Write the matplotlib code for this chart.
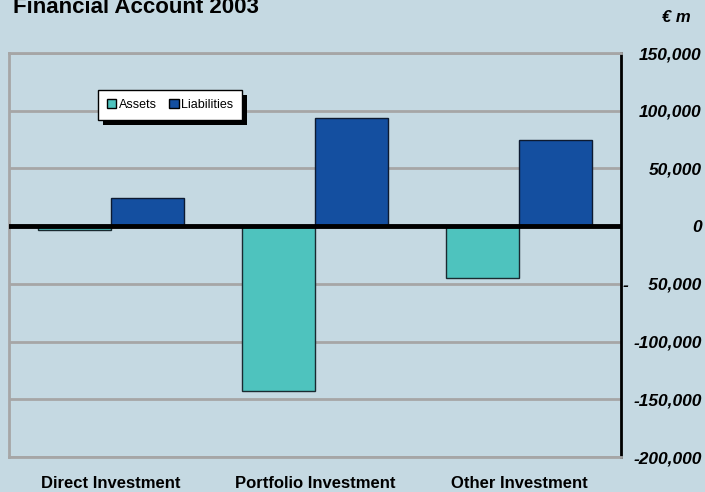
import matplotlib.pyplot as plt
import matplotlib.patches as mpatches
import numpy as np

plt.rcParams['font.family'] = ['Liberation Sans', 'DejaVu Sans']

categories = ['Direct Investment', 'Portfolio Investment', 'Other Investment']
assets = [-3400, -142600, -45200]
liabilities = [24100, 93400, 74300]
ytick_vals = [150000, 100000, 50000, 0, -50000, -100000, -150000, -200000]
ytick_labels = ['150,000', '100,000', '50,000', '0', '-    50,000', '-100,000', '-150,000', '-200,000']

bg = '#c5d9e2'
W, H = 705, 492
fig = plt.figure(figsize=(W / 100, H / 100), dpi=100, facecolor=bg)
ax = fig.add_axes([9 / W, 1 - 457 / H, (621 - 9) / W, (457 - 53) / H], facecolor=bg)

x = np.arange(len(categories))
w = 0.36
ax.bar(x - w / 2, assets, w, color='#4ec3be', edgecolor='#1a2a30', linewidth=1, label='Assets', zorder=3)
ax.bar(x + w / 2, liabilities, w, color='#144fa0', edgecolor='#0d1a30', linewidth=1, label='Liabilities', zorder=3)

ax.set_xlim(-0.5, 2.5)
ax.set_ylim(-200000, 150000)
for v in ytick_vals:
    if v != 0:
        ax.axhline(v, color='#a6a6a6', linewidth=2, zorder=1)
ax.axhline(0, color='black', linewidth=3.5, zorder=4)

ax.yaxis.tick_right()
ax.set_yticks(ytick_vals)
ax.set_yticklabels(ytick_labels, fontsize=12.5, fontweight='bold', style='italic', ha='right')
ax.tick_params(axis='y', length=0, pad=58)
ax.set_xticks(x)
ax.set_xticklabels(categories, fontsize=12, fontweight='bold')
ax.tick_params(axis='x', length=0, pad=14)

for s in ['left', 'top', 'bottom']:
    ax.spines[s].set_color('#a6a6a6')
    ax.spines[s].set_linewidth(2)
ax.spines['right'].set_color('black')
ax.spines['right'].set_linewidth(2)

fig.text(13 / W, 1 - 13 / H, 'Financial Account 2003', fontsize=16, fontweight='bold', va='baseline')
fig.text(691 / W, 1 - 18 / H, '€ m', fontsize=12, fontweight='bold', style='italic', ha='right', va='center')

leg = ax.legend(loc='upper left', bbox_to_anchor=(89 / 612, 1 - 37 / 404), ncol=2, fontsize=9,
                frameon=True, fancybox=False, framealpha=1, handlelength=0.75, handleheight=0.75,
                columnspacing=1.0, handletextpad=0.2, borderpad=0.7, borderaxespad=0)
leg.get_frame().set_facecolor('white')
leg.get_frame().set_edgecolor('black')
leg.get_frame().set_linewidth(1)
for h in leg.legend_handles:
    h.set_edgecolor('black')
leg.set_zorder(6)

# solid black drop shadow behind the legend box
fig.canvas.draw()
bb = leg.get_window_extent()
shadow = mpatches.Rectangle((bb.x0 + 5, bb.y0 - 5), bb.width, bb.height, transform=None,
                            facecolor='black', edgecolor='none', zorder=5)
ax.add_artist(shadow)

fig.savefig('out.png', dpi=100, facecolor=bg)
